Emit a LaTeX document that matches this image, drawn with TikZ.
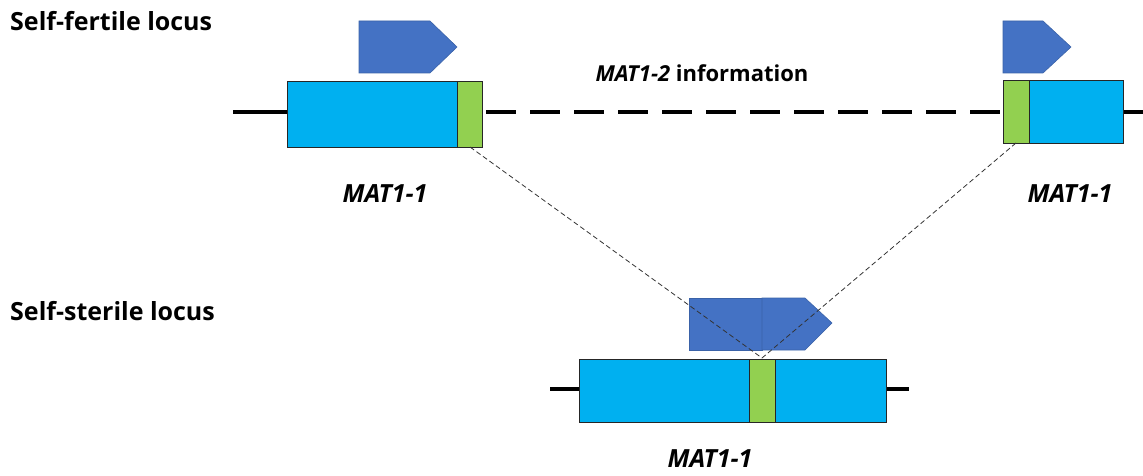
\documentclass[tikz,border=0pt]{standalone}
\usepackage{fontspec}
\setmainfont{Open Sans}
\begin{document}
\begin{tikzpicture}[x=1pt,y=-1pt,
  gene/.style={fill=geneblue,draw=black!85,line width=0.8pt},
  site/.style={fill=sitegreen,draw=black!85,line width=0.8pt},
  orf/.style={fill=orfblue,draw=orfedge,line width=0.6pt},
  chrom/.style={line width=3.2pt},
  link/.style={line width=0.8pt,draw=black!80,dash pattern=on 5pt off 3pt},
  lbl/.style={font=\bfseries\fontsize{25}{30}\selectfont,inner sep=0pt},
  genelbl/.style={font=\bfseries\itshape\fontsize{25}{30}\selectfont,inner sep=0pt}]
\definecolor{geneblue}{HTML}{00B0F0}
\definecolor{sitegreen}{HTML}{92D050}
\definecolor{orfblue}{HTML}{4472C4}
\definecolor{orfedge}{HTML}{3A62A8}
\useasboundingbox (0,0) rectangle (1143,476);

% section headings
\node[lbl,anchor=west] (hf) at (10,21) {Self-fertile locus};
\node[lbl,anchor=west] (hs) at (10,311) {Self-sterile locus};

% self-fertile locus: chromosome line
\coordinate (cl) at (233,112);
\coordinate (cr) at (1143,112);
\draw[chrom] (cl) -- (287,112);
\draw[chrom] (1123,112) -- (cr);
\draw[chrom,dash pattern=on 30pt off 14pt,dash phase=-4pt] (482,112) -- (1003,112);

% left MAT1-1 copy
\draw[gene] (287,81) rectangle (457,147);
\draw[site] (457,81) rectangle (482,147);
\coordinate (g1) at (470,147);
\draw[orf] (359,21) -- (430,21) -- (457,47) -- (430,73) -- (359,73) -- cycle;
\node[genelbl] (m1) at (385,194) {MAT1-1};

% right MAT1-1 copy
\draw[gene] (1029,80) rectangle (1123,143);
\draw[site] (1003,80) rectangle (1029,143);
\coordinate (g2) at (1016,143);
\draw[orf] (1003,21) -- (1043,21) -- (1071,47) -- (1043,73) -- (1003,73) -- cycle;
\node[genelbl] (m2) at (1070,194) {MAT1-1};

\node[inner sep=0pt,font=\bfseries\fontsize{22}{26}\selectfont] (info) at (702,73)
  {\textit{MAT1-2} information};

% self-sterile locus
\draw[chrom] (550,389) -- (579,389);
\draw[chrom] (886,389) -- (909,389);
\draw[gene] (579,359) rectangle (886,422);
\draw[site] (749,359) rectangle (775,422);
\coordinate (g3) at (762,358);
\draw[orf] (689,298) rectangle (762,350);
\draw[orf] (762,298) -- (805,298) -- (832,323) -- (805,350) -- (762,350) -- cycle;
\node[genelbl] (m3) at (710,459) {MAT1-1};

% junction lines
\draw[link] (g1) -- (g3);
\draw[link] (g2) -- (g3);
\end{tikzpicture}
\end{document}
